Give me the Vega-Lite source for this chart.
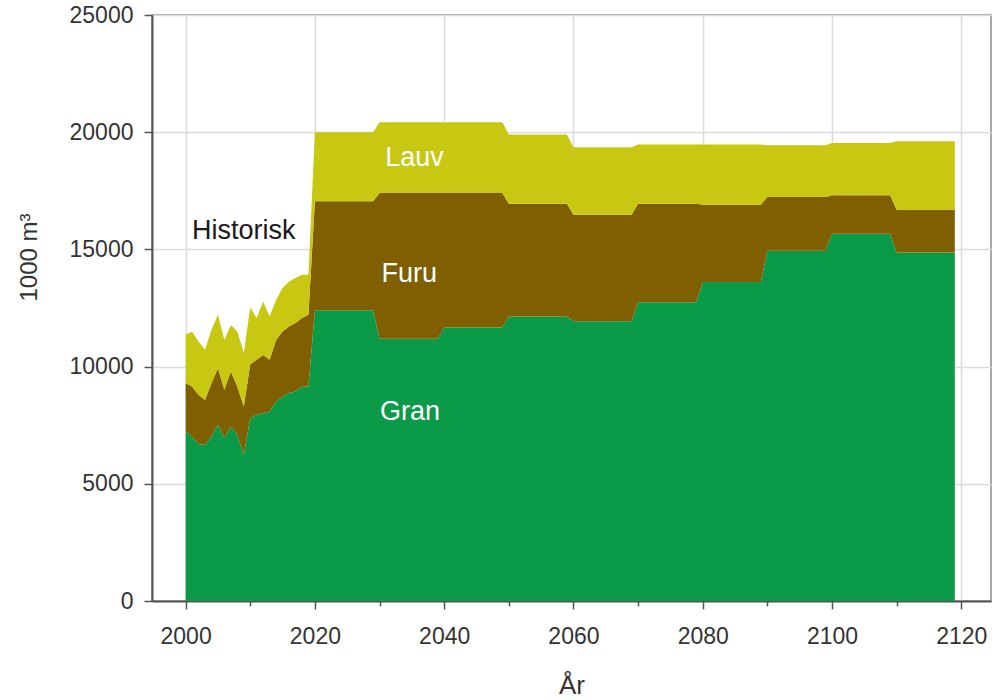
{
  "$schema": "https://vega.github.io/schema/vega-lite/v6.json",
  "width": 839,
  "height": 586,
  "autosize": {"type": "none"},
  "padding": {"left": 152, "top": 15, "right": 2, "bottom": 99},
  "background": "white",
  "config": {
    "font": "Liberation Sans",
    "view": {"stroke": "#8a8a8a", "strokeWidth": 1.5},
    "axis": {
      "domainColor": "#555555",
      "domainWidth": 2,
      "tickColor": "#555555",
      "tickWidth": 1.5,
      "gridColor": "#dcdcdc",
      "gridWidth": 1.5,
      "labelColor": "#333333",
      "labelFontSize": 23,
      "titleFontSize": 24,
      "titleColor": "#333333",
      "titleFontWeight": "normal"
    }
  },
  "datasets": {
    "volum": [
      {"year": 2000, "Gran": 7230, "Furu": 2060, "Lauv": 2070},
      {"year": 2001, "Gran": 7020, "Furu": 2130, "Lauv": 2350},
      {"year": 2002, "Gran": 6700, "Furu": 2100, "Lauv": 2270},
      {"year": 2003, "Gran": 6650, "Furu": 1930, "Lauv": 2140},
      {"year": 2004, "Gran": 7020, "Furu": 2270, "Lauv": 2280},
      {"year": 2005, "Gran": 7520, "Furu": 2410, "Lauv": 2280},
      {"year": 2006, "Gran": 6950, "Furu": 2060, "Lauv": 2130},
      {"year": 2007, "Gran": 7440, "Furu": 2350, "Lauv": 1990},
      {"year": 2008, "Gran": 7090, "Furu": 2060, "Lauv": 2350},
      {"year": 2009, "Gran": 6230, "Furu": 2070, "Lauv": 2280},
      {"year": 2010, "Gran": 7800, "Furu": 2300, "Lauv": 2430},
      {"year": 2011, "Gran": 7940, "Furu": 2350, "Lauv": 1780},
      {"year": 2012, "Gran": 8010, "Furu": 2490, "Lauv": 2280},
      {"year": 2013, "Gran": 8080, "Furu": 2210, "Lauv": 1850},
      {"year": 2014, "Gran": 8510, "Furu": 2630, "Lauv": 1710},
      {"year": 2015, "Gran": 8720, "Furu": 2780, "Lauv": 1850},
      {"year": 2016, "Gran": 8870, "Furu": 2840, "Lauv": 1920},
      {"year": 2017, "Gran": 8940, "Furu": 2920, "Lauv": 1920},
      {"year": 2018, "Gran": 9150, "Furu": 2920, "Lauv": 1850},
      {"year": 2019, "Gran": 9150, "Furu": 3060, "Lauv": 1710},
      {"year": 2020, "Gran": 12400, "Furu": 4650, "Lauv": 2950},
      {"year": 2029, "Gran": 12400, "Furu": 4650, "Lauv": 2950},
      {"year": 2030, "Gran": 11190, "Furu": 6220, "Lauv": 3010},
      {"year": 2039, "Gran": 11190, "Furu": 6220, "Lauv": 3010},
      {"year": 2040, "Gran": 11670, "Furu": 5740, "Lauv": 3010},
      {"year": 2049, "Gran": 11670, "Furu": 5740, "Lauv": 3010},
      {"year": 2050, "Gran": 12140, "Furu": 4810, "Lauv": 2950},
      {"year": 2059, "Gran": 12140, "Furu": 4810, "Lauv": 2950},
      {"year": 2060, "Gran": 11930, "Furu": 4550, "Lauv": 2880},
      {"year": 2069, "Gran": 11930, "Furu": 4550, "Lauv": 2880},
      {"year": 2070, "Gran": 12740, "Furu": 4210, "Lauv": 2520},
      {"year": 2079, "Gran": 12740, "Furu": 4210, "Lauv": 2520},
      {"year": 2080, "Gran": 13610, "Furu": 3300, "Lauv": 2560},
      {"year": 2089, "Gran": 13610, "Furu": 3300, "Lauv": 2560},
      {"year": 2090, "Gran": 14945, "Furu": 2295, "Lauv": 2200},
      {"year": 2099, "Gran": 14945, "Furu": 2295, "Lauv": 2200},
      {"year": 2100, "Gran": 15670, "Furu": 1640, "Lauv": 2230},
      {"year": 2109, "Gran": 15670, "Furu": 1640, "Lauv": 2230},
      {"year": 2110, "Gran": 14870, "Furu": 1820, "Lauv": 2920},
      {"year": 2119, "Gran": 14870, "Furu": 1820, "Lauv": 2920}
    ],
    "arter": [
      {"art": "Gran", "rang": 1},
      {"art": "Furu", "rang": 2},
      {"art": "Lauv", "rang": 3}
    ],
    "hvite": [
      {"label": "Lauv", "year": 2035.4, "value": 18900},
      {"label": "Furu", "year": 2034.6, "value": 13960},
      {"label": "Gran", "year": 2034.7, "value": 8070}
    ],
    "svart": [
      {"label": "Historisk", "year": 2009.0, "value": 15800}
    ]
  },
  "layer": [
    {
      "data": {"name": "volum"},
      "transform": [
        {"fold": ["Gran", "Furu", "Lauv"], "as": ["art", "value"]},
        {"lookup": "art", "from": {"data": {"name": "arter"}, "key": "art", "fields": ["rang"]}}
      ],
      "mark": {"type": "area", "interpolate": "linear"},
      "encoding": {
        "x": {
          "field": "year", "type": "quantitative",
          "scale": {"domain": [1994.8, 2124.6], "nice": false, "zero": false},
          "axis": {
            "values": [2000, 2020, 2040, 2060, 2080, 2100, 2120],
            "format": "d", "title": "År", "tickSize": 8, "labelPadding": 16,
            "grid": true, "titleY": 92, "titleBaseline": "alphabetic", "titleFontSize": 26
          }
        },
        "y": {
          "field": "value", "type": "quantitative", "stack": "zero",
          "scale": {"domain": [0, 25000], "nice": false},
          "axis": {
            "values": [0, 5000, 10000, 15000, 20000, 25000],
            "format": "d", "title": "1000 m³", "tickSize": 8, "labelPadding": 11,
            "grid": true, "titleX": -123, "titleY": 242, "titleBaseline": "middle"
          }
        },
        "color": {
          "field": "art", "type": "nominal",
          "scale": {"domain": ["Gran", "Furu", "Lauv"], "range": ["#0a9a48", "#7f5f00", "#c8c812"]},
          "legend": null
        },
        "order": {"field": "rang", "type": "quantitative", "sort": "ascending"}
      }
    },
    {
      "data": {"name": "hvite"},
      "mark": {"type": "text", "color": "white", "fontSize": 27, "baseline": "middle", "align": "center"},
      "encoding": {
        "x": {
          "field": "year", "type": "quantitative",
          "axis": {
            "orient": "bottom", "values": [2010, 2030, 2050, 2070, 2090, 2110],
            "labels": false, "grid": false, "domain": false, "tickSize": 5, "title": null
          }
        },
        "y": {"field": "value", "type": "quantitative", "title": "1000 m³"},
        "text": {"field": "label"}
      }
    },
    {
      "data": {"name": "svart"},
      "mark": {"type": "text", "color": "#1a1a1a", "fontSize": 27, "baseline": "middle", "align": "center"},
      "encoding": {
        "x": {"field": "year", "type": "quantitative", "axis": null},
        "y": {"field": "value", "type": "quantitative", "title": "1000 m³"},
        "text": {"field": "label"}
      }
    }
  ],
  "resolve": {"axis": {"x": "independent"}}
}
